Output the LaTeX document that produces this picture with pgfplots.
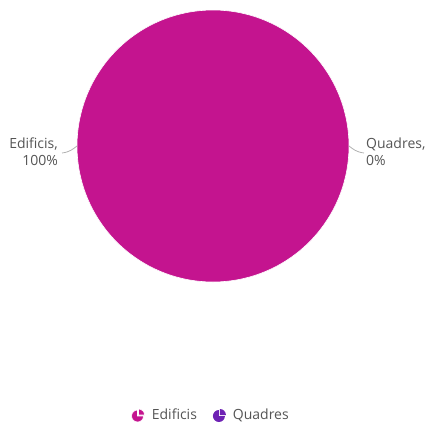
\documentclass[border=0pt]{standalone}
\usepackage{pgfplots}
\pgfplotsset{compat=1.18}
\usepackage{fontspec}
\setmainfont{Open Sans}
\definecolor{edif}{HTML}{C4148F}
\definecolor{quad}{HTML}{6E22B4}
\definecolor{txt}{HTML}{555555}
\definecolor{lead}{HTML}{B0B0B0}
\begin{document}
\begin{tikzpicture}
\begin{axis}[
  scale only axis, width=426pt, height=426pt,
  xmin=0, xmax=426, ymin=0, ymax=426, y dir=reverse,
  hide axis, clip=false,
  legend columns=2,
  legend style={at={(axis cs:211,415)}, anchor=center, draw=none, fill=none,
    font=\fontsize{14}{16}\selectfont\color{txt},
    /tikz/every odd column/.append style={column sep=5pt},
    /tikz/every even column/.append style={column sep=14pt}},
  legend image code/.code={
    \fill[#1] (3pt,-1pt) -- (3pt,5pt) arc[start angle=90,end angle=360,radius=6pt] -- cycle;
    \fill[#1] (4pt,0pt) -- (10pt,0pt) arc[start angle=0,end angle=90,radius=6pt] -- cycle;
  },
]
\path[use as bounding box] (axis cs:0,0) rectangle (axis cs:426,426);
% Edificis: 100% -> 360 degrees
\addplot[fill=edif, draw=white, line width=0.6pt, domain=-90:270, samples=241]
  ({213+136*cos(x)},{146+136*sin(x)}) -- cycle;
\addlegendentry{Edificis}
% Quadres: 0% -> empty slice
\addplot[fill=quad, draw=none] coordinates {(213,146)};
\addlegendentry{Quadres}
% leader lines
\draw[lead, line width=0.8pt] (axis cs:62,153) .. controls (axis cs:70,152) and (axis cs:73,149) .. (axis cs:77,146);
\draw[lead, line width=0.8pt] (axis cs:349,146) .. controls (axis cs:353,149) and (axis cs:356,152) .. (axis cs:364,153);
% labels
\node[anchor=east, align=right, text=txt, font=\fontsize{14}{17}\selectfont, inner sep=0pt] at (axis cs:58,152) {Edificis,\\100\%};
\node[anchor=west, align=left, text=txt, font=\fontsize{14}{17}\selectfont, inner sep=0pt] at (axis cs:366,152) {Quadres,\\0\%};
\end{axis}
\end{tikzpicture}
\end{document}
